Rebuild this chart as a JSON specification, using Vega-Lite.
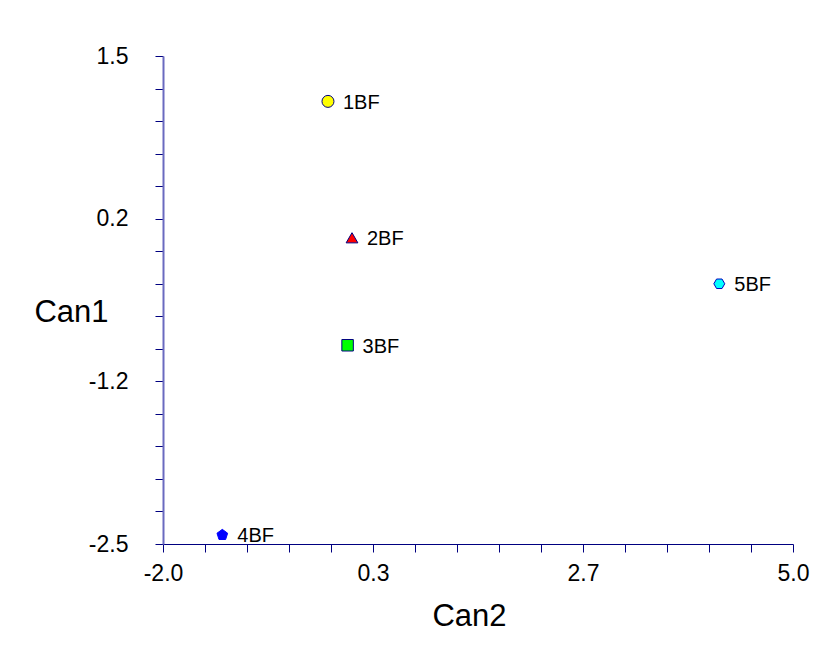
{
  "$schema": "https://vega.github.io/schema/vega-lite/v6.json",
  "autosize": "none",
  "width": 630,
  "height": 488,
  "padding": {"left": 163, "top": 56, "right": 30, "bottom": 112},
  "background": "white",
  "config": {
    "view": {"stroke": null},
    "font": "Liberation Sans",
    "axis": {"grid": false, "labelFont": "Liberation Sans", "titleFont": "Liberation Sans", "labelColor": "black", "titleColor": "black", "titleFontWeight": "normal"}
  },
  "data": {
    "values": [
      {"name": "1BF", "Can2": -0.167, "Can1": 1.128},
      {"name": "2BF", "Can2": 0.10, "Can1": 0.010},
      {"name": "3BF", "Can2": 0.051, "Can1": -0.871},
      {"name": "4BF", "Can2": -1.341, "Can1": -2.426},
      {"name": "5BF", "Can2": 4.181, "Can1": -0.367}
    ]
  },
  "encoding": {
    "x": {
      "field": "Can2", "type": "quantitative",
      "scale": {"domain": [-2, 5], "nice": false, "zero": false},
      "axis": {
        "title": "Can2",
        "values": [-2, -1.5333, -1.0667, -0.6, -0.1333, 0.3333, 0.8, 1.2667, 1.7333, 2.2, 2.6667, 3.1333, 3.6, 4.0667, 4.5333, 5],
        "labelExpr": "round((datum.value + 2) * 15 / 7) % 5 == 0 ? replace(format(datum.value, '.1f'), '\u2212', '-') : ''",
        "labelOverlap": false,
        "labelFontSize": 23,
        "labelBaseline": "alphabetic",
        "labelPadding": 28,
        "labelDx": -9,
        "labelFlush": false,
        "tickSize": 8,
        "tickColor": "#000080",
        "domainColor": "#000080",
        "domainWidth": 1.2,
        "titleFontSize": 31,
        "titleBaseline": "alphabetic",
        "titleAlign": "center",
        "titleX": 306,
        "titleY": 81
      }
    },
    "y": {
      "field": "Can1", "type": "quantitative",
      "scale": {"domain": [-2.5, 1.5], "nice": false, "zero": false},
      "axis": {
        "title": "Can1",
        "values": [-2.5, -2.2333, -1.9667, -1.7, -1.4333, -1.1667, -0.9, -0.6333, -0.3667, -0.1, 0.1667, 0.4333, 0.7, 0.9667, 1.2333, 1.5],
        "labelExpr": "round((datum.value + 2.5) * 15 / 4) % 5 == 0 ? replace(format(datum.value, '.1f'), '\u2212', '-') : ''",
        "labelOverlap": false,
        "labelFontSize": 23,
        "labelPadding": 27,
        "labelFlush": false,
        "tickSize": 8,
        "tickColor": "#000080",
        "domainColor": "#6a6ac0",
        "domainWidth": 2,
        "titleFontSize": 31,
        "titleAngle": 0,
        "titleBaseline": "alphabetic",
        "titleAlign": "center",
        "titleX": -92,
        "titleY": 265
      }
    }
  },
  "layer": [
    {
      "mark": {"type": "point", "filled": true, "opacity": 1, "strokeWidth": 1},
      "encoding": {
        "shape": {
          "field": "name", "type": "nominal", "legend": null,
          "scale": {
            "domain": ["1BF", "2BF", "3BF", "4BF", "5BF"],
            "range": ["circle", "triangle-up", "square", "M0,-1L0.951,-0.309L0.588,0.809L-0.588,0.809L-0.951,-0.309Z", "M1,0L0.5,-0.866L-0.5,-0.866L-1,0L-0.5,0.866L0.5,0.866Z"]
          }
        },
        "fill": {
          "field": "name", "type": "nominal", "legend": null,
          "scale": {"domain": ["1BF", "2BF", "3BF", "4BF", "5BF"], "range": ["#FFFF00", "#FF0000", "#00FF00", "#0000FF", "#00FFFF"]}
        },
        "stroke": {
          "field": "name", "type": "nominal", "legend": null,
          "scale": {"domain": ["1BF", "2BF", "3BF", "4BF", "5BF"], "range": ["#000080", "#000080", "#000080", "#0000FF", "#0000C0"]}
        },
        "size": {
          "field": "name", "type": "nominal", "legend": null,
          "scale": {"domain": ["1BF", "2BF", "3BF", "4BF", "5BF"], "range": [144, 120, 90, 187, 196]}
        }
      }
    },
    {
      "mark": {"type": "text", "align": "left", "baseline": "middle", "dx": 15, "dy": 1.5, "fontSize": 20, "font": "Liberation Sans", "color": "black"},
      "encoding": {"text": {"field": "name", "type": "nominal"}}
    }
  ]
}
